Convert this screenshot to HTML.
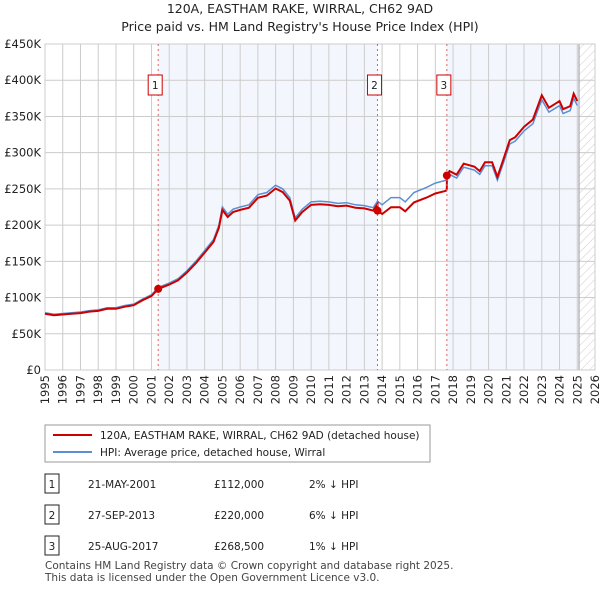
<!DOCTYPE html>
<html><head><meta charset="utf-8"><style>
body{margin:0;background:#fff;font-family:"Liberation Sans","DejaVu Sans",sans-serif;}
svg text{font-family:"DejaVu Sans","Liberation Sans",sans-serif;}
</style></head><body>
<svg id="c" width="600" height="590" xmlns="http://www.w3.org/2000/svg">
<defs><pattern id="hatch" width="6" height="6" patternUnits="userSpaceOnUse" patternTransform="rotate(45)"><line x1="0" y1="0" x2="0" y2="6" stroke="#ccc" stroke-width="1"/></pattern></defs>
<text x="300" y="13" text-anchor="middle" font-size="12.5" fill="#222">120A, EASTHAM RAKE, WIRRAL, CH62 9AD</text>
<text x="300" y="31" text-anchor="middle" font-size="12.5" fill="#222">Price paid vs. HM Land Registry's House Price Index (HPI)</text>
<g id="plot"></g>
<g>
<rect x="45" y="425" width="385" height="37" fill="#fff" stroke="#999"/>
<line x1="53" y1="435" x2="92" y2="435" stroke="#cc0000" stroke-width="2"/>
<text x="100" y="439" font-size="10.5" fill="#222">120A, EASTHAM RAKE, WIRRAL, CH62 9AD (detached house)</text>
<line x1="53" y1="452" x2="92" y2="452" stroke="#5b8fd4" stroke-width="2"/>
<text x="100" y="456" font-size="10.5" fill="#222">HPI: Average price, detached house, Wirral</text>
</g>
<g id="table" font-size="10.5" fill="#222"></g>
<text x="45" y="569" font-size="10.5" fill="#444">Contains HM Land Registry data © Crown copyright and database right 2025.</text>
<text x="45" y="581" font-size="10.5" fill="#444">This data is licensed under the Open Government Licence v3.0.</text>
</svg>
<script>
const hpiYears=[1995,1995.5,1996,1996.5,1997,1997.5,1998,1998.5,1999,1999.5,2000,2000.5,2001,2001.38,2002,2002.5,2003,2003.5,2004,2004.5,2004.8,2005,2005.3,2005.6,2006,2006.5,2007,2007.5,2008,2008.4,2008.8,2009.1,2009.5,2010,2010.5,2011,2011.5,2012,2012.5,2013,2013.5,2013.74,2014,2014.5,2015,2015.3,2015.8,2016.5,2017,2017.6,2017.8,2018.2,2018.6,2019.2,2019.5,2019.8,2020.2,2020.5,2020.8,2021.2,2021.5,2022,2022.5,2023,2023.4,2023.8,2024,2024.2,2024.6,2024.8,2025];
const hpiValues=[79,77,78,79,80,82,83,86,86,89,91,98,104,114,120,126,137,150,165,180,200,225,215,222,225,228,242,245,255,250,238,210,222,232,233,232,230,231,228,227,224,233,228,238,238,232,245,252,258,262,270,265,280,276,270,282,282,262,283,312,316,330,340,373,356,362,365,354,358,375,365];
const saleDates=[2001.38,2013.74,2017.65];
const saleLabels=["21-MAY-2001","27-SEP-2013","25-AUG-2017"];
const salePrices=[112,220,268.5];
const salePriceText=["£112,000","£220,000","£268,500"];
const saleDiffText=["2% ↓ HPI","6% ↓ HPI","1% ↓ HPI"];
const yTicks=[0,50,100,150,200,250,300,350,400,450];
const yTickLabels=["£0","£50K","£100K","£150K","£200K","£250K","£300K","£350K","£400K","£450K"];
const xTicks=[1995,1996,1997,1998,1999,2000,2001,2002,2003,2004,2005,2006,2007,2008,2009,2010,2011,2012,2013,2014,2015,2016,2017,2018,2019,2020,2021,2022,2023,2024,2025,2026];

const L=45,R=595,T=44,B=370,X0=1995,X1=2026,YMAX=450,DATAEND=2025.1;
const sx=v=>L+(v-X0)/(X1-X0)*(R-L), sy=v=>B-v/YMAX*(B-T);
const NS="http://www.w3.org/2000/svg";
function mk(tag,attrs,parent){const e=document.createElementNS(NS,tag);for(const k in attrs)e.setAttribute(k,attrs[k]);parent.appendChild(e);return e;}
const g=document.getElementById('plot');
let sh=mk('rect',{x:sx(saleDates[0]),y:T,width:sx(saleDates[1])-sx(saleDates[0]),height:B-T,fill:'#eef3fc',opacity:0.7},g);


sh=mk('rect',{x:sx(saleDates[2]),y:T,width:sx(DATAEND)-sx(saleDates[2]),height:B-T,fill:'#eef3fc',opacity:0.7},g);


sh=mk('rect',{x:sx(DATAEND),y:T,width:R-sx(DATAEND),height:B-T,fill:'url(#hatch)'},g);


yTicks.forEach((v,i)=>{mk('line',{x1:L,x2:R,y1:sy(v),y2:sy(v),stroke:'#ccc'},g);
 const t=mk('text',{x:L-4,y:sy(v)+4,'text-anchor':'end','font-size':11.5,fill:'#222'},g);t.textContent=yTickLabels[i];
 
 });
xTicks.forEach(v=>{mk('line',{x1:sx(v),x2:sx(v),y1:T,y2:B,stroke:'#ccc'},g);
 const t=mk('text',{x:0,y:0,'text-anchor':'end','font-size':11.5,fill:'#222',transform:`translate(${sx(v)+4},${B+5}) rotate(-90)`},g);t.textContent=v;
 
 });
mk('line',{x1:sx(DATAEND),x2:sx(DATAEND),y1:T,y2:B,stroke:'#999'},g);
mk('rect',{x:L,y:T,width:R-L,height:B-T,fill:'none',stroke:'#ccc'},g);
function hpiAt(t){for(let i=0;i<hpiYears.length-1;i++){if(t>=hpiYears[i]&&t<=hpiYears[i+1]){const f=(t-hpiYears[i])/(hpiYears[i+1]-hpiYears[i]);return hpiValues[i]+f*(hpiValues[i+1]-hpiValues[i]);}}return hpiValues[hpiValues.length-1];}
let d=hpiYears.map((y,i)=>(i?'L':'M')+sx(y).toFixed(1)+','+sy(hpiValues[i]).toFixed(1)).join('');
let p=mk('path',{d:d,fill:'none',stroke:'#5b8fd4','stroke-width':1.5},g);


function ratioAt(t){let k=0;for(let i=0;i<saleDates.length;i++)if(t>=saleDates[i])k=i;return salePrices[k]/hpiAt(saleDates[k]);}
const pts=[];hpiYears.forEach(y=>pts.push(y));saleDates.forEach(s=>{pts.push(s-0.001);pts.push(s);});pts.sort((a,b)=>a-b);
d=pts.map((y,i)=>(i?'L':'M')+sx(y).toFixed(1)+','+sy(hpiAt(y)*ratioAt(y)).toFixed(1)).join('');
p=mk('path',{d:d,fill:'none',stroke:'#cc0000','stroke-width':2},g);


saleDates.forEach((s,i)=>{
 mk('line',{x1:sx(s),x2:sx(s),y1:T,y2:B,stroke:'#e06060','stroke-dasharray':'2,3'},g);
 const c=mk('circle',{cx:sx(s),cy:sy(salePrices[i]),r:4,fill:'#cc0000'},g);
 
 
 const bx=sx(s)-10;
 const r=mk('rect',{x:bx,y:75,width:14,height:20,fill:'#fff',stroke:'#cc0000'},g);
 
 
 const t=mk('text',{x:bx+7,y:89,'text-anchor':'middle','font-size':10.5,fill:'#222'},g);t.textContent=i+1;
});
const tb=document.getElementById('table');
saleDates.forEach((s,i)=>{
 const y=484+i*31;
 const r=mk('rect',{x:45,y:y-10,width:14,height:19,fill:'#fff',stroke:'#222'},tb);
 
 
 let t=mk('text',{x:52,y:y+4,'text-anchor':'middle'},tb);t.textContent=i+1;
 t=mk('text',{x:88,y:y+4},tb);t.textContent=saleLabels[i];
 
 
 t=mk('text',{x:214,y:y+4},tb);t.textContent=salePriceText[i];
 
 
 t=mk('text',{x:309,y:y+4},tb);t.textContent=saleDiffText[i];
 
 
});
</script>
</body></html>
